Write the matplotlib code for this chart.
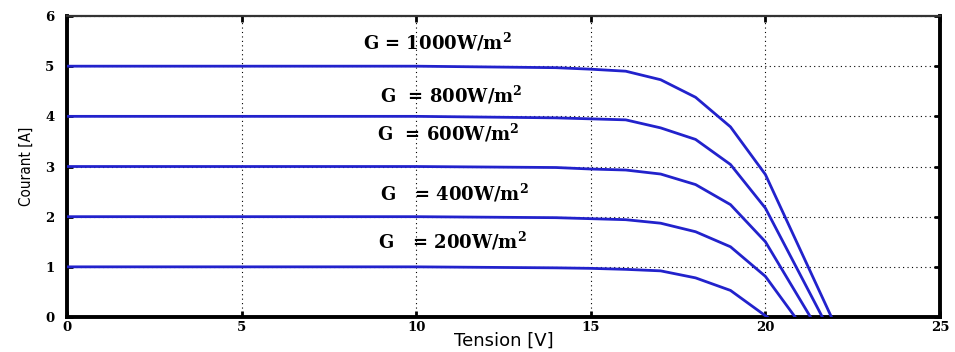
import matplotlib
matplotlib.use("Agg")
import matplotlib.pyplot as plt

V = [0, 5, 10, 14, 15, 16, 17, 18, 19, 20]
I_1000 = [5.0, 5.0, 5.0, 4.97, 4.94, 4.90, 4.73, 4.38, 3.79, 2.84]
I_800 = [4.0, 4.0, 4.0, 3.97, 3.95, 3.93, 3.77, 3.54, 3.04, 2.17]
I_600 = [3.0, 3.0, 3.0, 2.98, 2.95, 2.93, 2.85, 2.64, 2.24, 1.50]
I_400 = [2.0, 2.0, 2.0, 1.98, 1.96, 1.94, 1.87, 1.70, 1.40, 0.81]
I_200 = [1.0, 1.0, 1.0, 0.98, 0.97, 0.95, 0.92, 0.78, 0.53, 0.0]
Voc = {"1000": 21.89, "800": 21.63, "600": 21.29, "400": 20.85, "200": 20.05}

labels = ["G = 1000W/m$\\mathbf{^2}$", "G  = 800W/m$\\mathbf{^2}$", "G  = 600W/m$\\mathbf{^2}$",
          "G   = 400W/m$\\mathbf{^2}$", "G   = 200W/m$\\mathbf{^2}$"]
label_x = [8.48, 8.97, 8.88, 8.97, 8.9]
label_y = [5.48, 4.42, 3.66, 2.47, 1.51]

xticks = [0, 5, 10, 15, 20, 25]
yticks = [0, 1, 2, 3, 4, 5, 6]

fig = plt.figure(figsize=(9.55, 3.52), dpi=100)
ax = fig.add_axes([0.0702, 0.0994, 0.9141, 0.8551])
color = "#2222cc"
series = [("1000", I_1000), ("800", I_800), ("600", I_600), ("400", I_400), ("200", I_200)]
for key, I in series:
    if key == "200":
        xs = V[:-1] + [Voc[key]]
        ys = I
    else:
        xs = V + [Voc[key]]
        ys = I + [0.0]
    ax.plot(xs, ys, color=color, lw=2.0, zorder=3)

for t, x, y in zip(labels, label_x, label_y):
    ax.text(x, y, t, fontsize=13, fontweight="bold", family="DejaVu Serif",
            ha="left", va="center", zorder=4, math_fontfamily="dejavuserif")

ax.set_xlim(0, 25)
ax.set_ylim(0, 6)
ax.set_xticks(xticks)
ax.set_yticks(yticks)
ax.grid(True, color="black", linestyle=(0, (1, 3)), linewidth=0.8)
for lab in ax.get_xticklabels() + ax.get_yticklabels():
    lab.set_family("DejaVu Serif")
    lab.set_fontweight("bold")
    lab.set_fontsize(9.5)
ax.tick_params(direction="in", length=4, width=2, pad=3, top=True, right=True)
ax.tick_params(axis="y", pad=9)
for s in ax.spines.values():
    s.set_linewidth(2.8)
ax.spines["top"].set_linewidth(1.6)
ax.spines["top"].set_color("#333333")
ax.set_xlabel("Tension [V]", family="DejaVu Sans", fontsize=13, labelpad=-2)
ax.set_ylabel("Courant [A]", family="DejaVu Sans", fontstretch="condensed", fontsize=11, labelpad=8)
fig.savefig("out.png", dpi=100)
